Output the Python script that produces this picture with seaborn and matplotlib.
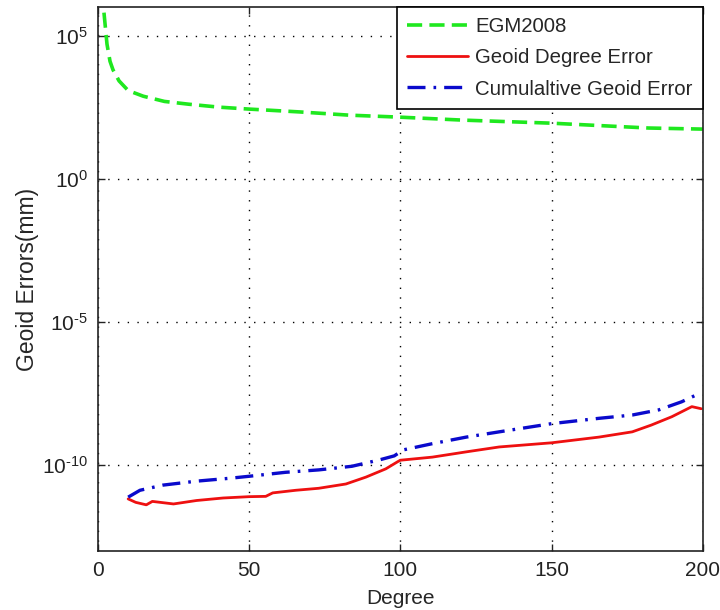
import matplotlib
matplotlib.use("Agg")
import matplotlib.pyplot as plt
from matplotlib.ticker import NullLocator, FixedLocator, FuncFormatter
import numpy as np
import pandas as pd
import seaborn as sns

# EGM2008 degree error (mm)
egm_degree = [2, 3, 4, 5, 7, 10, 15, 22, 30, 40, 50, 67, 83, 100, 120, 150, 182, 200]
egm_error = [6.3e5, 5.0e4, 1.26e4, 6.3e3, 2.6e3, 1.2e3, 7.6e2, 5.0e2, 4.0e2, 3.16e2,
             2.7e2, 2.14e2, 1.66e2, 1.41e2, 1.12e2, 8.7e1, 5.9e1, 5.4e1]

# Geoid degree error (mm)
deg_degree = [10, 12.5, 16, 18, 25, 32.6, 41.4, 50, 55.5, 57.8, 65.4, 73, 82, 88.6, 95.2,
              99, 100, 110.6, 121.8, 132.7, 150, 165.7, 176.7, 183, 189.8, 196.4, 199.5]
deg_error = [6.6e-12, 5.0e-12, 4.1e-12, 5.4e-12, 4.4e-12, 5.8e-12, 7.1e-12, 7.9e-12, 8.1e-12,
             1.07e-11, 1.32e-11, 1.55e-11, 2.19e-11, 3.8e-11, 7.4e-11,
             1.29e-10, 1.48e-10, 1.9e-10, 2.9e-10, 4.3e-10, 6.0e-10, 9.5e-10, 1.45e-9,
             2.5e-9, 4.9e-9, 1.1e-8, 9.3e-9]

# Cumulative geoid error (mm)
cum_degree = [10, 13.9, 21.5, 32.6, 43.6, 50, 62, 73, 84, 93, 98, 101, 110.6, 121.8,
              132.7, 150, 165.7, 176.7, 185.5, 193, 199]
cum_error = [7.6e-12, 1.32e-11, 2.0e-11, 2.75e-11, 3.47e-11, 4.07e-11, 5.6e-11, 6.8e-11,
             9.1e-11, 1.51e-10, 2.1e-10, 3.4e-10, 5.6e-10, 9.5e-10, 1.45e-9, 2.8e-9,
             4.3e-9, 5.6e-9, 8.5e-9, 1.62e-8, 3.2e-8]

labels = ["EGM2008", "Geoid Degree Error", "Cumulaltive Geoid Error"]
x_ticks = [0, 50, 100, 150, 200]
y_ticks = [1e-10, 1e-5, 1e0, 1e5]

sns.set_style("ticks")
plt.rcParams["font.family"] = ["Liberation Sans", "DejaVu Sans"]
plt.rcParams["mathtext.fontset"] = "custom"
plt.rcParams["mathtext.rm"] = "Liberation Sans"
plt.rcParams["mathtext.it"] = "Liberation Sans"
plt.rcParams["mathtext.default"] = "regular"
plt.rcParams["axes.unicode_minus"] = False

fig = plt.figure(figsize=(7.2, 6.1), dpi=100)
ax = fig.add_axes([0.136, 0.0967, 0.840, 0.892])
ax.set_yscale("log")

egm = pd.DataFrame({"degree": egm_degree, "error": egm_error})
dege = pd.DataFrame({"degree": deg_degree, "error": deg_error})
cume = pd.DataFrame({"degree": cum_degree, "error": cum_error})

sns.lineplot(data=egm, x="degree", y="error", ax=ax, color="#1fe81f", lw=2.6,
             linestyle=(0, (4.2, 2.0)), label=labels[0], sort=False)
sns.lineplot(data=dege, x="degree", y="error", ax=ax, color="#ee1010", lw=2.0,
             linestyle="-", label=labels[1], sort=False)
sns.lineplot(data=cume, x="degree", y="error", ax=ax, color="#0a0acc", lw=2.4,
             linestyle=(0, (5.4, 2.4, 0.8, 2.4)), label=labels[2], sort=False)

ax.set_xlim(0, 200)
ax.set_ylim(1e-13, 1e6)
ax.xaxis.set_major_locator(FixedLocator(x_ticks))
ax.yaxis.set_major_locator(FixedLocator(y_ticks))
ax.yaxis.set_minor_locator(NullLocator())
ax.xaxis.set_minor_locator(NullLocator())


def power_label(v, _pos):
    exp = int(round(np.log10(v)))
    return r"$10^{\text{%d}}$" % exp


ax.yaxis.set_major_formatter(FuncFormatter(power_label))

ax.grid(True, which="major", color="black", linestyle=(0, (1, 6)), linewidth=1.0)
ax.tick_params(direction="in", length=5, width=1.0, top=True, right=True,
               labelsize=15, pad=7, colors="#222222")
for s in ax.spines.values():
    s.set_visible(True)
    s.set_linewidth(1.2)
    s.set_color("#222222")

ax.set_xlabel("Degree", fontsize=15, labelpad=7)
ax.set_ylabel("Geoid Errors(mm)", fontsize=16.5, labelpad=2)

leg = ax.legend(loc="upper right", borderaxespad=0, fontsize=14.7, frameon=True,
                fancybox=False, edgecolor="black", framealpha=1, handlelength=3.0,
                labelspacing=0.6, borderpad=0.5, handletextpad=0.35)
leg.get_frame().set_linewidth(1.2)

fig.savefig("out.png", dpi=100)
